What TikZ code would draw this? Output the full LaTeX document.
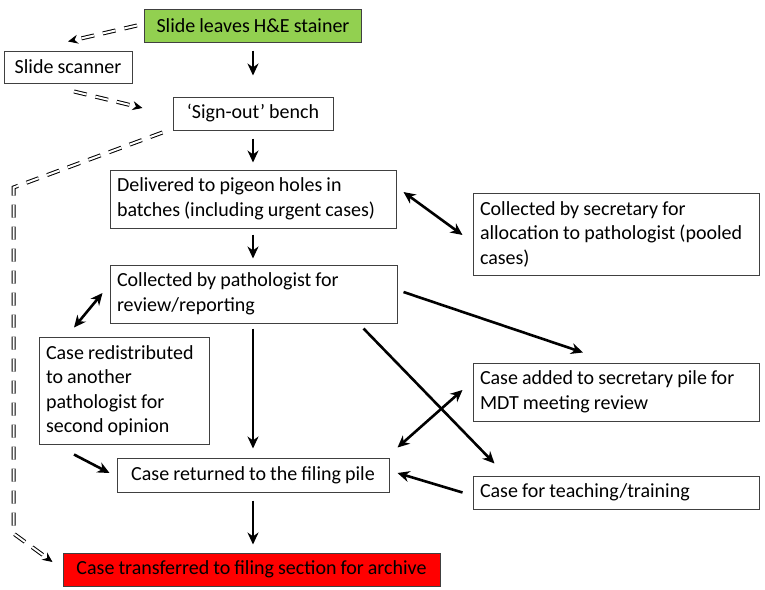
\documentclass[tikz,border=0pt]{standalone}
\usepackage{fontspec}
\setmainfont{Carlito}[WordSpace=0.9]
\usetikzlibrary{arrows.meta}

\definecolor{stainergreen}{HTML}{92D050}
\definecolor{archivered}{HTML}{FF0000}

\tikzset{
  box/.style={draw=black!75, line width=1pt, rectangle, inner xsep=7pt, inner ysep=0pt,
    font=\fontsize{20}{24.5}\selectfont},
  flow/.style={line width=2.6pt, -{Stealth[length=12pt,width=11pt]}},
  twoway/.style={line width=2.6pt, {Stealth[length=12pt,width=11pt]}-{Stealth[length=12pt,width=11pt]}},
  slideway/.style={double, double distance=2pt, line width=1pt, dash pattern=on 13pt off 9pt,
    -{Stealth[length=10pt,width=9pt]}}
}

\begin{document}
\begin{tikzpicture}[x=1pt,y=-1pt]
	\useasboundingbox (0,0) rectangle (765,589);

	\node (stainer) at (253,25.5) [box,fill=stainergreen,minimum width=217pt,minimum height=33pt] {Slide leaves H\&E stainer};
	\node (scanner) at (68,67) [box,minimum width=128pt,minimum height=32pt] {Slide scanner};
	\node (signout) at (253,113.5) [box,minimum width=160pt,minimum height=33pt] {`Sign-out' bench};
	\node (delivered) at (253,199) [box,text width=272pt,minimum height=58pt,align=flush left] {Delivered to pigeon holes in\\batches (including urgent cases)};
	\node (secretary) at (616,234) [box,text width=272pt,minimum height=82pt,align=flush left] {Collected by secretary for\\allocation to pathologist (pooled\\cases)};
	\node (pathol) at (253.5,294) [box,text width=273pt,minimum height=58pt,align=flush left] {Collected by pathologist for\\review/reporting};
	\node (redist) at (124,390.5) [box,text width=156pt,minimum height=107pt,align=flush left] {Case redistributed\\to another\\pathologist for\\second opinion};
	\node (mdt) at (616,392) [box,text width=272pt,minimum height=58pt,align=flush left] {Case added to secretary pile for\\MDT meeting review};
	\node (filing) at (253,475) [box,minimum width=272pt,minimum height=34pt] {Case returned to the filing pile};
	\node (teaching) at (616,492.5) [box,text width=272pt,minimum height=33pt,align=flush left] {Case for teaching/training};
	\node (archive) at (251.5,569.5) [box,fill=archivered,minimum width=377pt,minimum height=33pt] {Case transferred to filing section for archive};

	% scanner route
	\draw[slideway] ([shift={(-7,0)}]stainer.west) -- ([shift={(0,-9)}]scanner.north);
	\draw[slideway] ([shift={(6,8)}]scanner.south) -- ([shift={(-30,-5.5)}]signout.west);
	\draw[slideway] ([shift={(-10,2)}]signout.south west) -- ++(-149,55) -- ++(0,346) -- ([shift={(-10,-7.5)}]archive.west);

	% main column
	\draw[flow] ([shift={(0,8)}]stainer.south) -- ([shift={(0,-21)}]signout.north);
	\draw[flow] ([shift={(0,8)}]signout.south) -- ([shift={(0,-7)}]delivered.north);
	\draw[flow] ([shift={(0,6)}]delivered.south) -- ([shift={(-0.5,-6)}]pathol.north);
	\draw[flow] ([shift={(-0.5,5)}]pathol.south) -- ([shift={(0,-9)}]filing.north);
	\draw[flow] ([shift={(0,8)}]filing.south) -- ([shift={(1.5,-8)}]archive.north);

	% side routes
	\draw[twoway] ([shift={(7,-7)}]delivered.east) -- ([shift={(-10,1)}]secretary.west);
	\draw[twoway] ([shift={(-7,-1)}]pathol.west) -- ([shift={(-50,-9)}]redist.north);
	\draw[flow] ([shift={(6,-2)}]pathol.east) -- ([shift={(-33,-10)}]mdt.north);
	\draw[flow] ([shift={(-34,5)}]pathol.south east) -- ([shift={(22,-12)}]teaching.north west);
	\draw[twoway] ([shift={(-10,-2)}]mdt.west) -- ([shift={(8,-10)}]filing.north east);
	\draw[flow] ([shift={(-10,0)}]teaching.west) -- ([shift={(8,-2)}]filing.east);
	\draw[flow] ([shift={(-50,10)}]redist.south) -- ([shift={(-7,-2)}]filing.west);
\end{tikzpicture}
\end{document}
